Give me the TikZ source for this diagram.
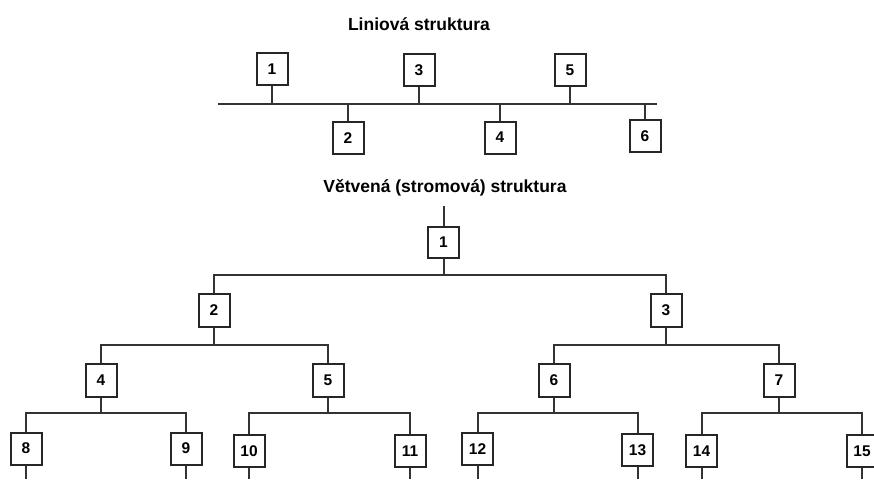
\documentclass[tikz,border=0pt]{standalone}
\usepackage{fontspec}
\setmainfont{Liberation Sans}
\begin{document}
\begin{tikzpicture}[x=1pt,y=-1pt,
  box/.style={draw=black!85,line width=2pt,fill=white,minimum width=31pt,minimum height=32pt,inner sep=0pt,font=\fontsize{15.5}{17}\selectfont\bfseries},
  title/.style={font=\fontsize{17.5}{20}\selectfont\bfseries},
  wire/.style={draw=black!80,line width=2pt}]
\useasboundingbox (0,0) rectangle (874,479);
% titles
\node[title] (t1) at (419,24) {Liniová struktura};
\node[title] (t2) at (445,188) {Větvená (stromová) struktura};
% linear structure
\coordinate (busL) at (218,104);
\coordinate (busR) at (657,104);
\draw[wire] (busL) -- (busR);
\node[box] (l1) at (272,69) {1};
\node[box] (l3) at (419,70) {3};
\node[box] (l5) at (570,70) {5};
\node[box] (l2) at (348,138) {2};
\node[box] (l4) at (500,137.5) {4};
\node[box] (l6) at (645,136) {6};
\foreach \n in {l1,l3,l5} \draw[wire] (\n.south) -- (\n.south |- busL);
\foreach \n in {l2,l4,l6} \draw[wire] (\n.north) -- (\n.north |- busL);
% tree structure
\coordinate (top) at (0,206);
\coordinate (y1) at (0,275);
\coordinate (y2) at (0,345);
\coordinate (y3) at (0,413);
\coordinate (bot) at (0,479);
\node[box,minimum height=31pt] (n1) at (443.5,242) {1};
\node[box,minimum height=33pt] (n2) at (214,310) {2};
\node[box,minimum height=33pt] (n3) at (666,310) {3};
\node[box,minimum height=33pt] (n4) at (101,380) {4};
\node[box,minimum height=33pt] (n5) at (328,380) {5};
\node[box,minimum height=33pt] (n6) at (554,380) {6};
\node[box,minimum height=33pt] (n7) at (779,380) {7};
\node[box,minimum height=32pt] (n8) at (26,448.5) {8};
\node[box,minimum height=32pt] (n9) at (186,448.5) {9};
\node[box,minimum height=32pt] (n10) at (249,451) {10};
\node[box,minimum height=32pt] (n11) at (410,451) {11};
\node[box,minimum height=32pt] (n12) at (477.5,449) {12};
\node[box,minimum height=32pt] (n13) at (637.5,450) {13};
\node[box,minimum height=32pt] (n14) at (701.5,451) {14};
\node[box,minimum height=32pt] (n15) at (862,451) {15};
\draw[wire] (n1.north) -- (n1.north |- top);
\foreach \p/\a/\b/\lv in {n1/n2/n3/y1, n2/n4/n5/y2, n3/n6/n7/y2, n4/n8/n9/y3, n5/n10/n11/y3, n6/n12/n13/y3, n7/n14/n15/y3}{
  \draw[wire] (\p.south) -- (\p.south |- \lv);
  \draw[wire] (\a.north) -- (\a.north |- \lv) -- (\b.north |- \lv) -- (\b.north);
}
\foreach \n in {n8,n9,n10,n11,n12,n13,n14,n15} \draw[wire] (\n.south) -- (\n.south |- bot);
\end{tikzpicture}
\end{document}
